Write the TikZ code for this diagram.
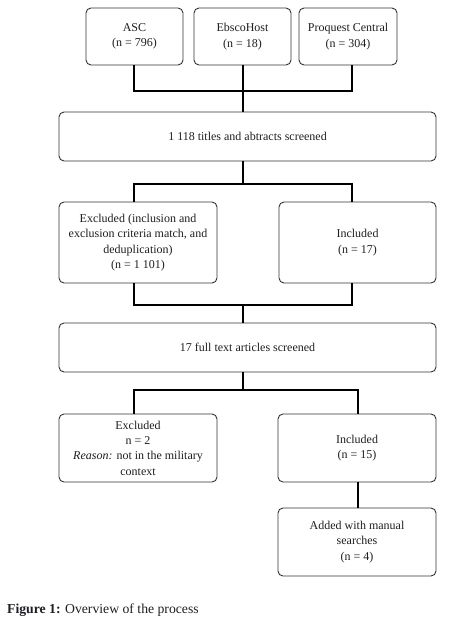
\documentclass[tikz,border=0pt]{standalone}
\usepackage{fontspec}
\setmainfont{Liberation Serif}
\usetikzlibrary{calc}
\definecolor{txt}{HTML}{1E1E24}
\begin{document}
\begin{tikzpicture}[x=1pt,y=-1pt,
  box/.style={draw=black!80, line width=0.9pt, rounded corners=5pt, align=center, inner sep=0pt, text=txt, font=\fontsize{12}{15.3}\selectfont},
  conn/.style={line width=2pt, black}]
\useasboundingbox (0,0) rectangle (458,623);
\coordinate (xL) at (134,0);
\coordinate (xM) at (243,0);
\coordinate (xR) at (352,0);
\coordinate (xRR) at (358,0);
\node[box, minimum width=97pt, minimum height=57pt] (asc) at (134.5,36.5) {ASC\\(n = 796)};
\node[box, minimum width=97pt, minimum height=57pt] (ebsco) at (242.5,36.5) {EbscoHost\\(n = 18)};
\node[box, minimum width=98pt, minimum height=57pt] (proq) at (348,36.5) {Proquest Central\\(n = 304)};
\node[box, minimum width=377pt, minimum height=49pt] (t1) at (247.5,136.5) {1 118 titles and abtracts screened};
\node[box, minimum width=158pt, minimum height=81pt] (excl) at (138,242.5) {Excluded (inclusion and\\exclusion criteria match, and\\deduplication)\\(n = 1 101)};
\node[box, minimum width=157pt, minimum height=81pt] (incl) at (357.5,242.5) {Included\\(n = 17)};
\node[box, minimum width=377pt, minimum height=49pt] (t2) at (247.5,347.5) {17 full text articles screened};
\node[box, minimum width=158pt, minimum height=68pt] (excl2) at (138,448) {Excluded\\n = 2\\\textit{Reason:} not in the military\\context};
\node[box, minimum width=158pt, minimum height=68pt] (incl2) at (357,448) {Included\\(n = 15)};
\node[box, minimum width=158pt, minimum height=68pt] (added) at (357,542) {Added with manual\\searches\\(n = 4)};
\node[anchor=base west, inner sep=0pt, text=txt, font=\fontsize{13.7}{16}\selectfont] (cap) at (7,613) {\textbf{Figure 1:} Overview of the process};
\draw[conn] (asc.south -| xL) -- ++(0,26) -| (proq.south -| xR);
\draw[conn] (ebsco.south -| xM) -- (t1.north -| xM);
\draw[conn] (t1.south -| xM) -- ++(0,23);
\draw[conn] (excl.north -| xL) -- ++(0,-18) -| (incl.north -| xR);
\draw[conn] (excl.south -| xL) -- ++(0,22) -| (incl.south -| xR);
\draw[conn] (t2.north -| xM) -- ++(0,-18);
\draw[conn] (t2.south -| xM) -- ++(0,18);
\draw[conn] (excl2.north -| xL) -- ++(0,-24) -| (incl2.north -| xRR);
\draw[conn] (incl2.south -| xRR) -- (added.north -| xRR);
\end{tikzpicture}
\end{document}
